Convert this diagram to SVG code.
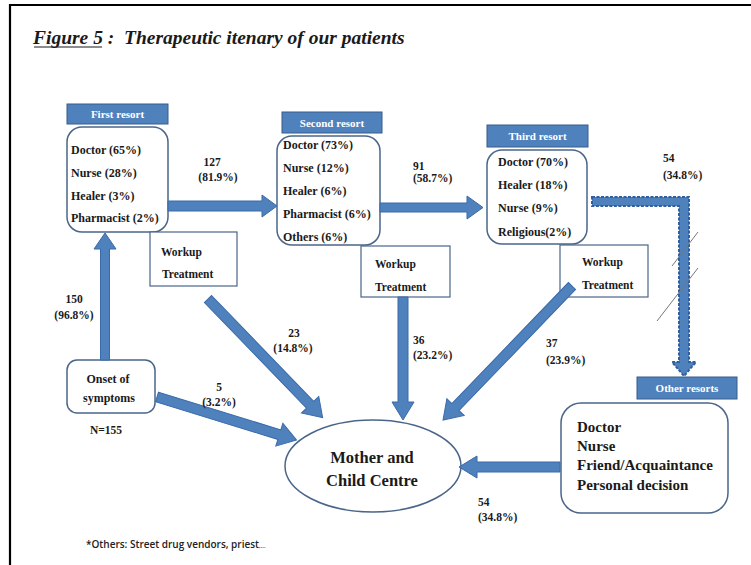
<svg xmlns="http://www.w3.org/2000/svg" width="751" height="565" viewBox="0 0 751 565">
<style>
.t{font-family:"Liberation Serif","Times New Roman",serif;font-weight:bold;fill:#1a1a1a}
.it{font-size:12px}
.lb{font-size:11.5px}
.hd{font-family:"Liberation Serif","Times New Roman",serif;font-weight:bold;font-size:11px;fill:#fff;text-anchor:middle}
.hbox{fill:#4F81BD;stroke:#385D8A;stroke-width:1}
.box{fill:#fff;stroke:#4A6589;stroke-width:1.5}
.sq{fill:#fff;stroke:#4A6589;stroke-width:1.2}
.arr{fill:#4F81BD;stroke:#3B6AA8;stroke-width:1}
.brk{stroke:#777;stroke-width:1;fill:none}
</style>
<rect width="751" height="565" fill="#fff"/>
<g id="frame" stroke="#000" stroke-width="2.2" fill="none">
<line x1="9" y1="5" x2="751" y2="5"/>
<line x1="10" y1="4" x2="10" y2="565"/>
</g>
<g id="title">
<text x="33" y="44" style="white-space:pre;font-family:'Liberation Serif','Times New Roman',serif;font-weight:bold;font-style:italic;font-size:19.5px;fill:#1a1a1a">Figure 5 :  Therapeutic itenary of our patients</text>
<line x1="34" y1="47" x2="102" y2="47" stroke="#1a1a1a" stroke-width="1.2"/>
</g>
<g id="first-resort">
<rect class="hbox" x="67" y="104" width="101" height="20"/>
<text class="hd" x="117.5" y="118">First resort</text>
<rect class="box" x="67" y="127" width="101" height="105" rx="15"/>
<text class="t it" x="71" y="154">Doctor (65%)</text>
<text class="t it" x="71" y="177">Nurse (28%)</text>
<text class="t it" x="71" y="200">Healer (3%)</text>
<text class="t it" x="71" y="222">Pharmacist (2%)</text>
</g>
<g id="workup1">
<rect class="sq" x="150" y="232" width="87" height="54"/>
<text class="t lb" x="161" y="256">Workup</text>
<text class="t lb" x="162" y="278">Treatment</text>
</g>
<g id="second-resort">
<rect class="hbox" x="282" y="112" width="100" height="21"/>
<text class="hd" x="332" y="126.5">Second resort</text>
<rect class="box" x="277" y="136" width="103" height="109" rx="15"/>
<text class="t it" x="283" y="149">Doctor (73%)</text>
<text class="t it" x="283" y="172">Nurse (12%)</text>
<text class="t it" x="283" y="195">Healer (6%)</text>
<text class="t it" x="283" y="218">Pharmacist (6%)</text>
<text class="t it" x="283" y="241">Others (6%)</text>
</g>
<g id="workup2">
<rect class="sq" x="361" y="246" width="89" height="51"/>
<text class="t lb" x="375" y="268">Workup</text>
<text class="t lb" x="375" y="291">Treatment</text>
</g>
<g id="third-resort">
<rect class="hbox" x="487" y="125" width="101" height="22"/>
<text class="hd" x="537.5" y="140">Third resort</text>
<rect class="box" x="487" y="150" width="100" height="94" rx="15"/>
<text class="t it" x="498" y="166">Doctor (70%)</text>
<text class="t it" x="498" y="189">Healer (18%)</text>
<text class="t it" x="498" y="212">Nurse (9%)</text>
<text class="t it" x="498" y="236">Religious(2%)</text>
</g>
<g id="workup3">
<rect class="sq" x="560" y="245" width="88" height="52"/>
<text class="t lb" x="582" y="266">Workup</text>
<text class="t lb" x="582" y="289">Treatment</text>
</g>
<g id="onset">
<rect class="box" x="67" y="360" width="88" height="53" rx="10"/>
<text class="t it" x="108" y="383" text-anchor="middle">Onset of</text>
<text class="t it" x="109" y="402" text-anchor="middle">symptoms</text>
<text class="t lb" x="106" y="434" text-anchor="middle">N=155</text>
</g>
<g id="mcc">
<ellipse class="box" cx="373" cy="466" rx="88" ry="46"/>
<text class="t" x="372" y="463" text-anchor="middle" font-size="16.5">Mother and</text>
<text class="t" x="372" y="486" text-anchor="middle" font-size="16.5">Child Centre</text>
</g>
<g id="other-resorts">
<rect class="hbox" x="637" y="377" width="100" height="22"/>
<text class="hd" x="687" y="392">Other resorts</text>
<rect class="box" x="561" y="403" width="167" height="110" rx="20"/>
<text class="t" x="577" y="432" font-size="15">Doctor</text>
<text class="t" x="577" y="451" font-size="15">Nurse</text>
<text class="t" x="577" y="470" font-size="15">Friend/Acquaintance</text>
<text class="t" x="577" y="490" font-size="15">Personal decision</text>
</g>
<g id="connectors">
<polygon class="arr" points="168,201 262,201 262,195 277,206 262,217 262,211 168,211"/>
<polygon class="arr" points="380,203 467,203 467,196 483,207.5 467,219 467,212 380,212"/>
<polygon class="arr" points="100.5,360 100.5,249 94,249 105,233 116,249 109.5,249 109.5,360"/>
<polygon class="arr" points="398,297 398,402 392,402 403,420 414,402 408,402 408,297"/>
<polygon class="arr" points="560,462 477,462 477,456 459,467 477,478 477,472 560,472"/>
<polygon class="arr" transform="translate(208,299) rotate(46)" points="0,-5 147,-5 147,-12 165,0 147,12 147,5 0,5"/>
<polygon class="arr" transform="translate(157,397) rotate(17.1)" points="0,-5 128,-5 128,-12 146,0 128,12 128,5 0,5"/>
<polygon class="arr" transform="translate(572,286) rotate(133.9)" points="0,-5 168,-5 168,-12 186,0 168,12 168,5 0,5"/>
<polygon points="592,197 689,197 689,362 696,362 684,376 672,362 679,362 679,206 592,206" fill="#4F81BD" stroke="#2F5F9E" stroke-width="2" stroke-dasharray="3 1.5"/>
<line class="brk" x1="698" y1="232" x2="672" y2="266"/>
<line class="brk" x1="698" y1="268" x2="657" y2="321"/>
</g>
<g id="labels">
<text class="t lb" x="212" y="166" text-anchor="middle">127</text>
<text class="t lb" x="218" y="181" text-anchor="middle">(81.9%)</text>
<text class="t lb" x="413" y="170">91</text>
<text class="t lb" x="413" y="182">(58.7%)</text>
<text class="t lb" x="663" y="162">54</text>
<text class="t lb" x="663" y="179">(34.8%)</text>
<text class="t lb" x="74" y="303" text-anchor="middle">150</text>
<text class="t lb" x="74" y="319" text-anchor="middle">(96.8%)</text>
<text class="t lb" x="219" y="391" text-anchor="middle">5</text>
<text class="t lb" x="219" y="406" text-anchor="middle">(3.2%)</text>
<text class="t lb" x="294" y="337" text-anchor="middle">23</text>
<text class="t lb" x="293" y="352" text-anchor="middle">(14.8%)</text>
<text class="t lb" x="413" y="344">36</text>
<text class="t lb" x="413" y="359">(23.2%)</text>
<text class="t lb" x="546" y="347">37</text>
<text class="t lb" x="546" y="364">(23.9%)</text>
<text class="t lb" x="478" y="506">54</text>
<text class="t lb" x="478" y="521">(34.8%)</text>
</g>
<g id="footnote">
<text x="86" y="548" style="font-family:'Open Sans','Liberation Sans',sans-serif;font-weight:600;font-size:10px;fill:#222">*Others: Street drug vendors, priest<tspan font-size="6">,...</tspan></text>
</g>
</svg>
